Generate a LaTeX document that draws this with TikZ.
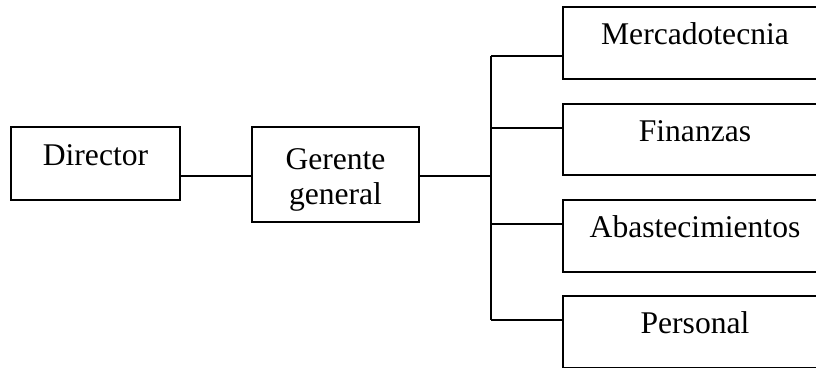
\documentclass[tikz,border=0pt]{standalone}
\usepackage{fontspec}
\setmainfont{Liberation Serif}
\begin{document}
\begin{tikzpicture}[x=1pt,y=-1pt,
  line width=1.8pt,
  every node/.style={font=\fontsize{31.6}{35}\selectfont, inner sep=0pt},
  unit/.style={draw, line width=1.8pt, text height=0.68em, text depth=0.30em},
  dept/.style={unit, minimum width=264, minimum height=71.5},
  plain/.style={align=center}]
  \useasboundingbox (0,0) rectangle (816,367);
  \clip (0,0) rectangle (816,367);

  % left-hand chain
  \node[unit, minimum width=169, minimum height=73] (director) at (95.5,163.5) {Director};
  \node[draw, minimum width=167, minimum height=95] (gerente) at (335.5,174.5) {};
  \node[plain, anchor=base] (gerentetxt) at (335.5,204) {Gerente\\general};

  % departments
  \node[dept] (merc) at (695,43)    {Mercadotecnia};
  \node[dept] (fin)  at (695,139.5) {Finanzas};
  \node[dept] (aba)  at (695,236)   {Abastecimientos};
  \node[dept] (pers) at (695,332)   {Personal};

  % bus coordinates
  \coordinate (j)  at (491,176);
  \coordinate (b1) at (491,56);
  \coordinate (b2) at (491,128);
  \coordinate (b3) at (491,224);
  \coordinate (b4) at (491,320);

  % connectors
  \draw (director.east |- j) -- (gerente.west |- j);
  \draw (gerente.east |- j) -- (j);
  \draw (b1) -- (b4);
  \draw (b1) -- (merc.west |- b1);
  \draw (b2) -- (fin.west |- b2);
  \draw (b3) -- (aba.west |- b3);
  \draw (b4) -- (pers.west |- b4);
\end{tikzpicture}
\end{document}
